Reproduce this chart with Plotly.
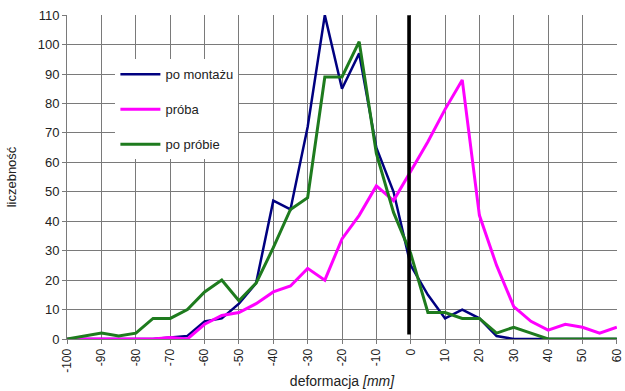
import plotly.graph_objects as go

# deformation classes [mm], 5 mm step
deformacja = list(range(-100, 61, 5))

po_montazu = [0, 0, 0, 0, 0, 0, 0.5, 1, 6, 7, 12, 19, 47, 44, 72, 110, 85, 97,
              65, 50, 25, 15, 7, 10, 7, 1, 0, 0, 0, 0, 0, 0, 0]
proba = [0, 0, 0, 0, 0, 0, 0.5, 0, 5, 8, 9, 12, 16, 18, 24, 20, 34, 42,
         52, 47, 57, 67, 78, 88, 42, 25, 11, 6, 3, 5, 4, 2, 4]
po_probie = [0, 1, 2, 1, 2, 7, 7, 10, 16, 20, 13, 19, 31, 44, 48, 89, 89, 101,
             63, 43, 29, 9, 9, 7, 7, 2, 4, 2, 0, 0, 0, 0, 0]

x_ticks = list(range(-100, 61, 10))
y_ticks = list(range(0, 111, 10))
ref_x = -0.5  # zero reference line

fig = go.Figure()
fig.add_trace(go.Scatter(x=deformacja, y=po_montazu, mode="lines", name="po montażu",
                         legendgroup="a", line=dict(color="#000080", width=2.5)))
fig.add_trace(go.Scatter(x=deformacja, y=proba, mode="lines", name="próba",
                         legendgroup="b", line=dict(color="#FF00FF", width=3)))
fig.add_trace(go.Scatter(x=deformacja, y=po_probie, mode="lines", name="po próbie",
                         legendgroup="c", line=dict(color="#1E7B1E", width=3)))

fig.add_shape(type="line", x0=ref_x, x1=ref_x, y0=1.5, y1=110, xref="x", yref="y",
              line=dict(color="black", width=3.5), layer="above")

fig.update_layout(
    width=625, height=391,
    margin=dict(l=67, r=8, t=15, b=52),
    paper_bgcolor="white", plot_bgcolor="white",
    font=dict(family="Liberation Sans, Arial, sans-serif", size=12, color="#222222"),
    showlegend=True,
    legend=dict(x=0.088, y=0.863, xanchor="left", yanchor="top",
                bgcolor="white", borderwidth=0,
                font=dict(size=13, color="#222222"),
                itemwidth=40, tracegroupgap=15),
    xaxis=dict(range=[-100.05, 60.05], tickvals=x_ticks, ticktext=[str(v) for v in x_ticks],
               tickangle=-90, ticklabeloverflow="allow", automargin=False,
               showgrid=True, gridcolor="#7a7a7a", gridwidth=1,
               showline=True, linecolor="#7a7a7a", zeroline=False,
               ticks="outside", ticklen=4, tickcolor="#7a7a7a",
               title=dict(text="deformacja <i>[mm]</i>", standoff=4,
                          font=dict(size=14, color="#222222"))),
    yaxis=dict(range=[0, 110.05], tickvals=y_ticks, showgrid=True, gridcolor="#7a7a7a",
               gridwidth=1, showline=True, linecolor="#7a7a7a", zeroline=False,
               ticks="outside", ticklen=4, tickcolor="#7a7a7a",
               tickfont=dict(size=13), automargin=False,
               title=dict(text="liczebność", standoff=18,
                          font=dict(size=13, color="#222222"))),
)

fig.write_html("out.html")
